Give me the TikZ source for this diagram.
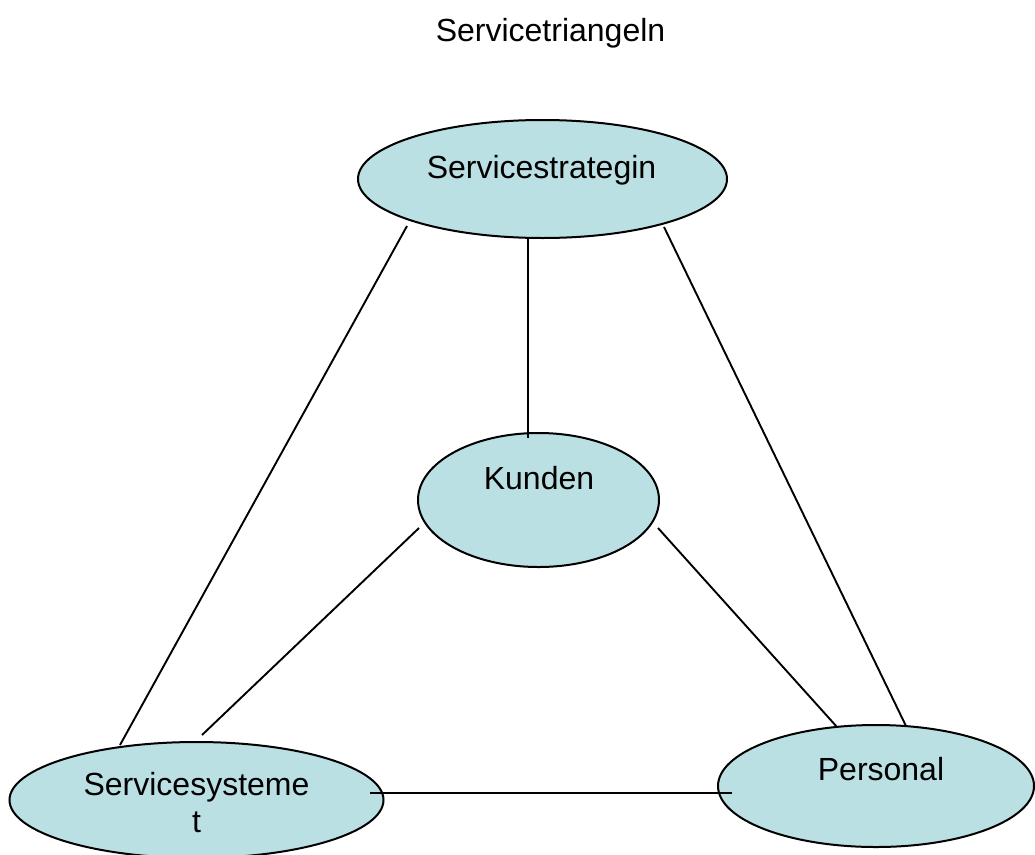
\documentclass[tikz,border=0pt]{standalone}
\usepackage{fontspec}
\setmainfont{Liberation Sans}
\usetikzlibrary{shapes.geometric,calc}
\definecolor{bubble}{RGB}{187,224,227}
\tikzset{
  bubble/.style={ellipse, draw=black, line width=2pt, fill=bubble, inner sep=0pt},
  caption/.style={anchor=base, inner sep=0pt, font=\fontsize{32}{37}\selectfont, align=center},
  link/.style={draw=black, line width=1.9pt}
}
\begin{document}
\begin{tikzpicture}[x=1pt, y=-1pt]
\useasboundingbox (0,0) rectangle (1035,854);

% the four ellipses
\node[bubble, minimum width=369pt, minimum height=118pt] (strat) at (542.5,179) {};
\node[bubble, minimum width=241pt, minimum height=134pt] (kund) at (538.5,500) {};
\node[bubble, minimum width=374pt, minimum height=116pt] (sys) at (196.5,800) {};
\node[bubble, minimum width=316pt, minimum height=122pt] (pers) at (876,786) {};

% connectors
\draw[link] ($(strat)+(-135.5,47)$) -- ($(sys)+(-76.5,-55)$);
\draw[link] ($(strat)+(-14.5,59)$) -- ($(kund)+(-10.5,-62)$);
\draw[link] ($(strat)+(121.5,48)$) -- ($(pers)+(30,-60)$);
\draw[link] ($(kund)+(-119.5,28)$) -- ($(sys)+(5.5,-65)$);
\draw[link] ($(kund)+(119.5,28)$) -- ($(pers)+(-39,-59)$);
\draw[link] ($(sys)+(173.5,-7)$) -- ($(pers)+(-144,7)$);

% texts (a two-line node sits on the baseline of its last line)
\node[caption] (title) at (550.5,41) {Servicetriangeln};
\node[caption] (tstrat) at (541.5,178) {Servicestrategin};
\node[caption] (tkund) at (539,489) {Kunden};
\node[caption] (tsys) at (196.5,832) {Servicesysteme\\t};
\node[caption] (tpers) at (881,780) {Personal};
\end{tikzpicture}
\end{document}
